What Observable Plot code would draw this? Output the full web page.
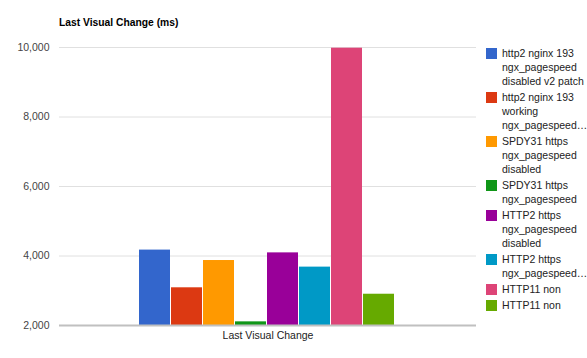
<!DOCTYPE html>
<html>
<head>
<meta charset="utf-8">
<script src="https://cdn.jsdelivr.net/npm/d3@7"></script>
<script src="https://cdn.jsdelivr.net/npm/@observablehq/plot@0.6"></script>
<style>
  html, body { margin: 0; padding: 0; background: #fff; }
  #wrap { position: relative; width: 587px; height: 358px; font-family: Arial, "Liberation Sans", sans-serif; }
  #title { position: absolute; left: 59px; top: 17px; font-size: 10.3px; font-weight: bold; color: #000; white-space: nowrap; }
  #legend { position: absolute; left: 486px; top: 46px; width: 100px; font-size: 10.5px; color: #222; }
  .item { display: flex; align-items: flex-start; margin-bottom: 2px; }
  .sw { width: 11px; height: 11px; flex: none; margin-top: 1.5px; margin-right: 5px; }
  .lbl { line-height: 14px; }
  svg { position: absolute; left: 0; top: 0; }
</style>
</head>
<body>
<div id="wrap">
  <div id="title"></div>
  <div id="legend"></div>
</div>
<script>
const title = "Last Visual Change (ms)";
const category = "Last Visual Change";
const seriesNames = [
  "http2 nginx 193 ngx_pagespeed disabled v2 patch",
  "http2 nginx 193 working ngx_pagespeed enabled",
  "SPDY31 https ngx_pagespeed disabled",
  "SPDY31 https ngx_pagespeed",
  "HTTP2 https ngx_pagespeed disabled",
  "HTTP2 https ngx_pagespeed enabled",
  "HTTP11 non",
  "HTTP11 non "
];
const legendLabels = [
  "http2 nginx 193<br>ngx_pagespeed<br>disabled v2 patch",
  "http2 nginx 193<br>working<br>ngx_pagespeed…",
  "SPDY31 https<br>ngx_pagespeed<br>disabled",
  "SPDY31 https<br>ngx_pagespeed",
  "HTTP2 https<br>ngx_pagespeed<br>disabled",
  "HTTP2 https<br>ngx_pagespeed…",
  "HTTP11 non",
  "HTTP11 non"
];
const values = [4170, 3085, 3870, 2105, 4090, 3680, 9980, 2900];
const colors = ["#3366cc", "#dc3912", "#ff9900", "#109618", "#990099", "#0099c6", "#dd4477", "#66aa00"];
const yTicks = [2000, 4000, 6000, 8000, 10000];
const yDomain = [2000, 10000];

const data = seriesNames.map((s, i) => ({series: s, value: values[i], category}));

document.getElementById("title").textContent = title;
const legend = document.getElementById("legend");
legendLabels.forEach((l, i) => {
  const d = document.createElement("div");
  d.className = "item";
  d.innerHTML = `<div class="sw" style="background:${colors[i]}"></div><div class="lbl">${l}</div>`;
  legend.appendChild(d);
});

const fmt = d3.format(",");
const chart = Plot.plot({
  width: 587,
  height: 358,
  marginLeft: 59,
  marginRight: 111,
  marginTop: 47,
  marginBottom: 33,
  style: {fontFamily: "Arial, 'Liberation Sans', sans-serif", fontSize: "10.5px", background: "transparent"},
  x: {type: "band", domain: seriesNames, range: [138.3, 395.7], padding: 0.03, axis: null},
  y: {domain: yDomain, ticks: yTicks, tickFormat: fmt, label: null},
  color: {domain: seriesNames, range: colors},
  marks: [
    Plot.gridY(yTicks, {stroke: "#e0e0e0", strokeOpacity: 1, strokeWidth: 1}),
    Plot.axisY(yTicks, {tickSize: 0, tickPadding: 10, tickFormat: fmt, label: null, fill: "#444"}),
    Plot.barY(data, {x: "series", y1: yDomain[0], y2: "value", fill: "series"}),
    Plot.ruleY([yDomain[0]], {stroke: "#c0c0c0", strokeWidth: 2}),
    Plot.text([category], {text: d => d, frameAnchor: "bottom", dy: 13, fill: "#222", fontSize: 10.5})
  ]
});
document.getElementById("wrap").appendChild(chart);
</script>
</body>
</html>
